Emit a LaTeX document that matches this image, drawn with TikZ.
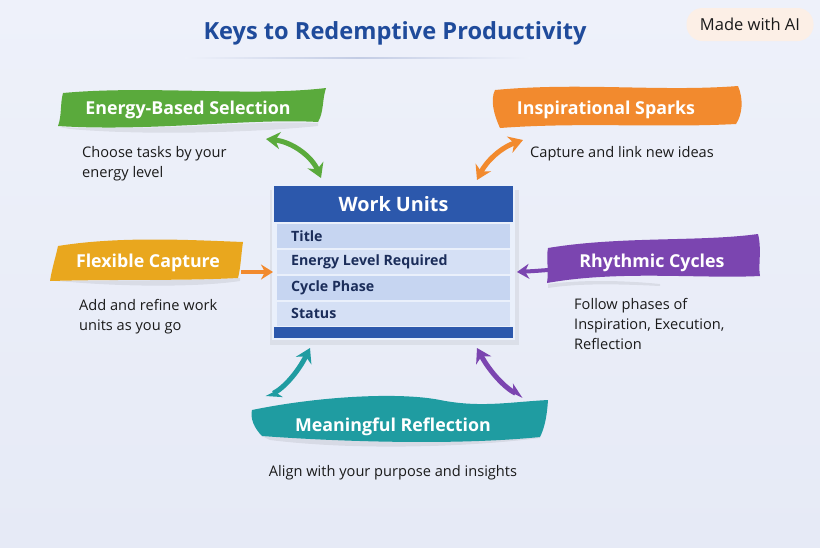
\documentclass[tikz,border=0pt]{standalone}
\usepackage{fontspec}
\setmainfont{Open Sans}
\usetikzlibrary{arrows.meta,calc}
\definecolor{bgtop}{HTML}{EEF1FA}
\definecolor{bgbot}{HTML}{E6EAF6}
\definecolor{titleblue}{HTML}{1F4B9B}
\definecolor{hdrblue}{HTML}{2C58AC}
\definecolor{rowa}{HTML}{C6D5F1}
\definecolor{rowb}{HTML}{D5E0F5}
\definecolor{rowsep}{HTML}{EAF0FB}
\definecolor{rowtext}{HTML}{1B2D5A}
\definecolor{bodytext}{HTML}{1A1A1A}
\definecolor{cgreen}{HTML}{5AAA3C}
\definecolor{corange}{HTML}{F28A2E}
\definecolor{camber}{HTML}{E9A71E}
\definecolor{cpurple}{HTML}{7B45B0}
\definecolor{cteal}{HTML}{1F9CA1}
\definecolor{pill}{HTML}{FCEFE6}
\definecolor{uline}{HTML}{C3CCE4}
\tikzset{
  bannertext/.style={text=white, font=\bfseries\fontsize{17.8}{20}\selectfont, inner sep=0pt, anchor=base},
  bodystyle/.style={text=bodytext, font=\fontsize{14.6}{20}\selectfont, align=left, anchor=north west, inner sep=0pt},
  rowstyle/.style={text=rowtext, font=\bfseries\fontsize{14.2}{16}\selectfont, anchor=west, inner sep=0pt},
  dblarrow/.style={line width=5pt, {Stealth[length=14pt,width=17pt]}-{Stealth[length=14pt,width=17pt]}},
  footarrow/.style={line width=5pt, {Stealth[harpoon,length=13pt,width=15pt]}-{Stealth[length=14pt,width=17pt]}},
  sidearrow/.style={line width=4pt, -{Stealth[length=12pt,width=15pt]}},
  bshadow/.style={fill=black, opacity=0.07},
}
\begin{document}
\begin{tikzpicture}[x=1pt,y=-1pt]
\shade[top color=bgtop, bottom color=bgbot] (0,0) rectangle (820,547);
\useasboundingbox (0,0) rectangle (820,547);

% title
\node[text=titleblue, font=\bfseries\fontsize{23.6}{27}\selectfont] (title) at (395,33) {Keys to Redemptive Productivity};
\shade[left color=bgtop, right color=bgtop, middle color=uline] (185,57.4) rectangle (530,58.8);

% made with AI
\node[fill=pill, rounded corners=16pt, minimum width=127pt, minimum height=33pt, text=bodytext, font=\fontsize{16.5}{19}\selectfont] (ai) at (750,24.5) {Made with AI};

% ---------- central box ----------
\fill[black, opacity=0.06] (270,190) rectangle (519,345);
\fill[rowsep] (272,184) rectangle (515,340);
\fill[hdrblue] (274,186) rectangle (513,222);
\fill[rowa] (277,224) rectangle (510,248);
\fill[rowb] (277,250) rectangle (510,274);
\fill[rowa] (277,276) rectangle (510,300);
\fill[rowb] (277,302) rectangle (510,326);
\fill[hdrblue] (274,327) rectangle (513,338);
\node[text=white, font=\bfseries\fontsize{19.8}{22}\selectfont] (wu) at (393.5,204) {Work Units};
\node[rowstyle] (r1) at (291,236) {Title};
\node[rowstyle] (r2) at (291,262) {Energy Level Required};
\node[rowstyle] (r3) at (291,288) {Cycle Phase};
\node[rowstyle] (r4) at (291,313.5) {Status};
\coordinate (boxleft) at (273,272);
\coordinate (boxright) at (517,272);

% ---------- Energy-Based Selection (green) ----------
\fill[bshadow] (70,129) .. controls (150,136) and (260,132) .. (318,126) -- (318,123) .. controls (250,120) and (150,132) .. (60,127) -- cycle;
\fill[cgreen] (63,93) .. controls (150,85) and (250,97) .. (326,88)
  .. controls (322,100) and (324,112) .. (318,122)
  .. controls (250,118) and (150,132) .. (58,126)
  .. controls (62,115) and (60,104) .. (63,93) -- cycle;
\node[bannertext] (ebs) at (188,114.5) {Energy-Based Selection};
\node[bodystyle] (ebt) at (82,146) {Choose tasks by your\\energy level};

% ---------- Inspirational Sparks (orange) ----------
\fill[corange] (495,90) .. controls (580,82) and (660,92) .. (738,86)
  .. controls (744,100) and (742,115) .. (736,124)
  .. controls (660,128) and (580,122) .. (500,128)
  .. controls (494,115) and (490,100) .. (495,90) -- cycle;
\node[bannertext] (isp) at (606,114.5) {Inspirational Sparks};
\node[bodystyle] (ist) at (530,146) {Capture and link new ideas};

% ---------- Flexible Capture (amber) ----------
\fill[bshadow] (70,282) .. controls (130,287) and (200,287) .. (240,281) -- (240,278) .. controls (180,281) and (120,280) .. (55,281) -- cycle;
\fill[camber] (58,246) .. controls (120,236) and (190,240) .. (243,242)
  .. controls (241,255) and (241,266) .. (238,278)
  .. controls (180,281) and (120,279) .. (50,281)
  .. controls (52,268) and (56,256) .. (58,246) -- cycle;
\node[bannertext] (fcb) at (148,267.5) {Flexible Capture};
\node[bodystyle] (fct) at (79,299) {Add and refine work\\units as you go};

% ---------- Rhythmic Cycles (purple) ----------
\fill[bshadow] (548,288) .. controls (580,283) and (620,284) .. (660,286) -- (660,284) .. controls (620,280) and (580,280) .. (548,284) -- cycle;
\fill[cpurple] (548,248) .. controls (620,236) and (700,242) .. (758,234)
  .. controls (762,250) and (758,265) .. (760,276)
  .. controls (700,279) and (620,270) .. (547,283)
  .. controls (549,270) and (546,258) .. (548,248) -- cycle;
\node[bannertext] (rcb) at (652,267.5) {Rhythmic Cycles};
\node[bodystyle] (rct) at (574,298) {Follow phases of\\Inspiration, Execution,\\Reflection};

% ---------- Meaningful Reflection (teal) ----------
\fill[bshadow] (270,440) .. controls (350,450) and (460,448) .. (540,438) -- (540,436) .. controls (450,444) and (330,440) .. (262,436) -- cycle;
\fill[cteal] (252,410) .. controls (320,396) and (400,392) .. (440,400)
  .. controls (480,408) and (510,402) .. (548,400)
  .. controls (547,415) and (545,427) .. (540,437)
  .. controls (450,446) and (330,441) .. (262,436)
  .. controls (254,428) and (250,418) .. (252,410) -- cycle;
\node[bannertext] (mrb) at (393,431.5) {Meaningful Reflection};
\node[bodystyle, anchor=north] (mrt) at (393,465) {Align with your purpose and insights};

% ---------- connectors ----------
\coordinate (g1) at (266,139);
\coordinate (g2) at (321,178);
\draw[dblarrow, cgreen] (g1) .. controls (293,142) and (312,157) .. (g2);

\coordinate (o1) at (523,140);
\coordinate (o2) at (477,180);
\draw[dblarrow, corange] (o1) .. controls (500,148) and (486,162) .. (o2);

\coordinate (fa) at (241,272);
\draw[sidearrow, corange] (fa) -- (boxleft);

\coordinate (ra) at (548,270);
\draw[sidearrow, cpurple] (ra) .. controls (535,271) .. (boxright);

\coordinate (t1) at (266,397);
\coordinate (t2) at (310,348);
\draw[footarrow, cteal] (t1) .. controls (284,388) and (298,372) .. (t2);

\coordinate (p1) at (523,397);
\coordinate (p2) at (477,348);
\draw[footarrow, cpurple] (p1) .. controls (505,388) and (490,372) .. (p2);
\end{tikzpicture}
\end{document}
